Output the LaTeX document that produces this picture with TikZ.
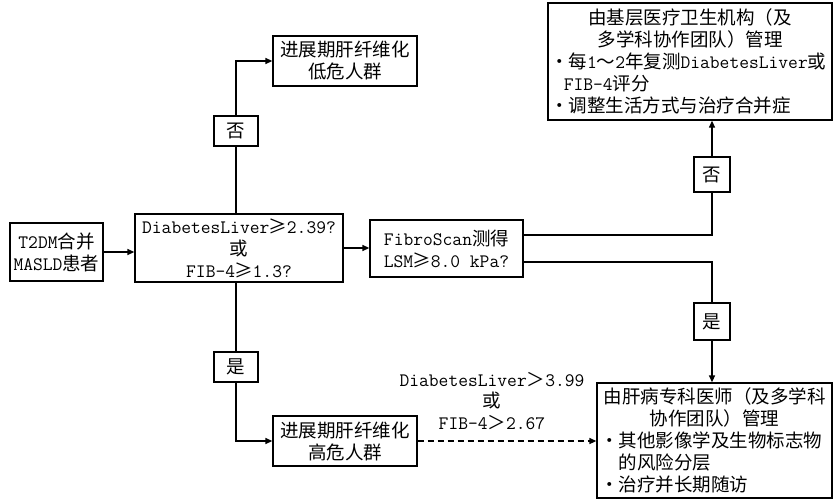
\documentclass[tikz,border=0pt]{standalone}
\usepackage{fontspec}
\setmainfont{Noto Sans CJK SC}
\usetikzlibrary{arrows.meta}
\newcommand\lat[1]{{\ttfamily\fontsize{19}{22}\selectfont #1}}
\newcommand\geqw{\makebox[0.95em]{≥}}
\tikzset{
  box/.style={draw, line width=1.3pt, fill=white, inner sep=2pt, align=center, font=\fontsize{18.5}{22}\selectfont},
  lab/.style={draw, line width=1.3pt, fill=white, inner sep=0pt, font=\fontsize{18.5}{22}\selectfont},
  conn/.style={line width=1.3pt},
  arr/.style={line width=1.3pt, -{Triangle[length=7pt,width=6pt]}},
}
\begin{document}
\begin{tikzpicture}[x=1pt,y=-1pt]
\useasboundingbox (0,0) rectangle (834,501);
% main boxes
\node[box, minimum width=93, minimum height=58] (A) at (56.5,252) {\lat{T2DM}合并\\\lat{MASLD}患者};
\node[box, minimum width=208, minimum height=68] (B) at (239,248) {\lat{DiabetesLiver}\geqw\lat{2.39?}\\或\\\lat{FIB-4}\geqw\lat{1.3?}};
\node[box, minimum width=153, minimum height=57] (C) at (446.5,248.5) {\lat{FibroScan}测得\\\lat{LSM}\geqw\lat{8.0 kPa?}};
\node[box, minimum width=144, minimum height=50] (F) at (345,61) {进展期肝纤维化\\低危人群};
\node[box, minimum width=144, minimum height=50] (G) at (345,441) {进展期肝纤维化\\高危人群};
\node[box, minimum width=284, minimum height=117, inner sep=1pt, text width=282pt, align=left] (D) at (690,61.5) {%
\makebox[\linewidth][c]{由基层医疗卫生机构（及}\\
\makebox[\linewidth][c]{多学科协作团队）管理}\\
\hspace*{1pt}・每\lat{1}～\lat{2}年复测\lat{DiabetesLiver}或\\
\hspace*{0.8em}\lat{FIB-4}评分\\
\hspace*{1pt}・调整生活方式与治疗合并症};
\node[box, minimum width=235, minimum height=115, text width=229pt, align=left] (E) at (714.5,440.5) {%
\makebox[\linewidth][c]{由肝病专科医师（及多学科}\\
\makebox[\linewidth][c]{协作团队）管理}\\
・其他影像学及生物标志物\\
\hspace*{1em}的风险分层\\
・治疗并长期随访};
% yes/no labels
\node[lab, minimum width=44, minimum height=30] (no1) at (236,131) {否};
\node[lab, minimum width=44, minimum height=30] (yes1) at (236,367) {是};
\node[lab, minimum width=36, minimum height=35] (no2) at (712,174.5) {否};
\node[lab, minimum width=36, minimum height=37] (yes2) at (712,321.5) {是};
% threshold label
\node[align=center, inner sep=0pt, font=\fontsize{18.5}{21.5}\selectfont] (lbl) at (492,401) {\lat{DiabetesLiver}＞\lat{3.99}\\或\\\lat{FIB-4}＞\lat{2.67}};
% connectors
\draw[arr] (A.east) -- (A.east -| B.west);
\draw[arr] (B.east) -- (B.east -| C.west);
\draw[conn] (B.north -| no1) -- (no1.south);
\draw[arr] (no1.north) |- (F.west);
\draw[conn] (B.south -| yes1) -- (yes1.north);
\draw[arr] (yes1.south) |- (G.west);
\coordinate (c1) at (523,235);
\coordinate (c2) at (523,262);
\draw[conn] (c1) -| (no2.south);
\draw[arr] (no2.north) -- (D.south -| no2);
\draw[conn] (c2) -| (yes2.north);
\draw[arr] (yes2.south) -- (E.north -| yes2);
\draw[arr, dash pattern=on 6pt off 4pt] (G.east) -- (G.east -| E.west);
\end{tikzpicture}
\end{document}
